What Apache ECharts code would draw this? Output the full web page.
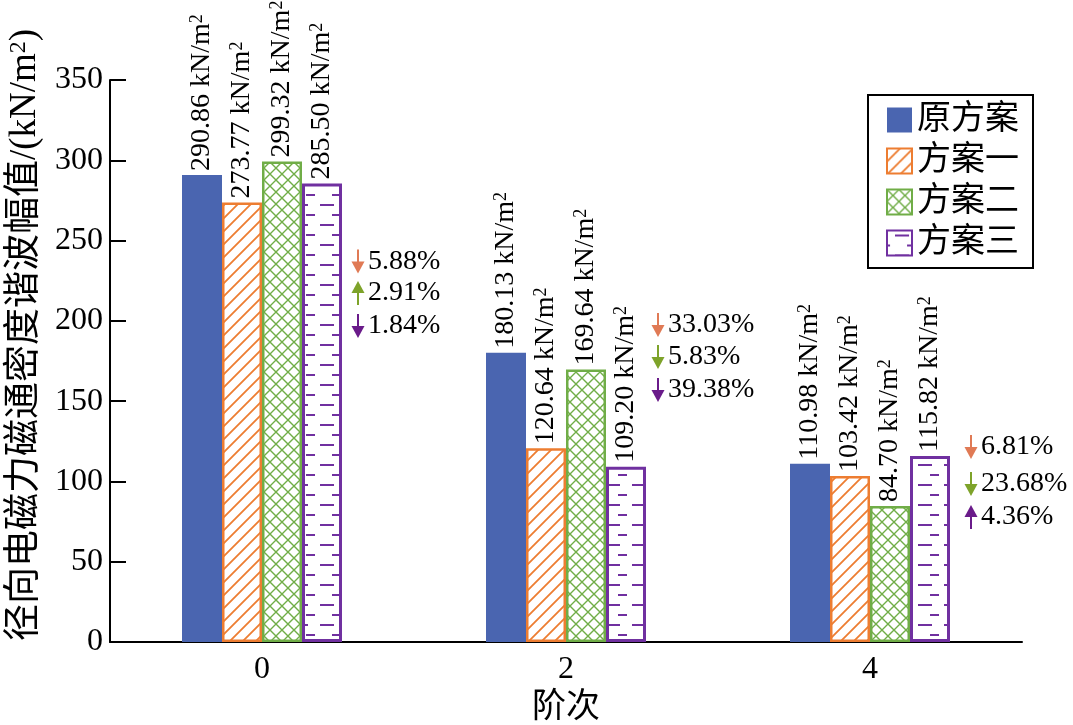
<!DOCTYPE html>
<html>
<head>
<meta charset="utf-8">
<script src="https://cdn.jsdelivr.net/npm/echarts@6/dist/echarts.min.js"></script>
<style>
html,body{margin:0;padding:0;background:#fff;}
#main{width:1073px;height:725px;}
</style>
</head>
<body>
<div id="main"></div>
<script>
// ---------- data ----------
const categories = ['0', '2', '4'];
const seriesNames = ['原方案', '方案一', '方案二', '方案三'];
const originalValues = [290.86, 180.13, 110.98];
const plan1Values = [273.77, 120.64, 103.42];
const plan2Values = [299.32, 169.64, 84.70];
const plan3Values = [285.50, 109.20, 115.82];
const yTicks = [0, 50, 100, 150, 200, 250, 300, 350];
// change of each plan vs. original, per order group (plan1, plan2, plan3)
const changePercent = [
  ['5.88%', '2.91%', '1.84%'],
  ['33.03%', '5.83%', '39.38%'],
  ['6.81%', '23.68%', '4.36%']
];
const changeDirection = [
  ['down', 'up', 'down'],
  ['down', 'down', 'down'],
  ['down', 'down', 'up']
];

// ---------- styling ----------
const SERIF = '"Liberation Serif", "Times New Roman", "Noto Sans CJK SC", serif';
const CJK = '"Liberation Serif", "Noto Sans CJK SC", serif';
const BLUE = '#4a65b0', ORANGE = '#ed7d31', GREEN = '#70ad47', PURPLE = '#7030a0';
const ARROW_COLORS = ['#e07a55', '#7ea32a', '#6a1b8a'];
// anchor heights (axis units) of annotation rows for each group
const annotAnchor = [[237, 217.4, 196.8], [197.4, 177.5, 156.9], [121.4, 98.4, 77.8]];
const annotOffsetX = [96, 92, 101];

function makePattern(w, h, draw) {
  const c = document.createElement('canvas');
  c.width = w; c.height = h;
  const ctx = c.getContext('2d');
  ctx.fillStyle = '#fff';
  ctx.fillRect(0, 0, w, h);
  draw(ctx, w, h);
  return { image: c, repeat: 'repeat' };
}
const hatchPattern = makePattern(13, 13, (ctx, w, h) => {
  ctx.strokeStyle = ORANGE; ctx.lineWidth = 1.8;
  ctx.beginPath();
  ctx.moveTo(-1, h + 1); ctx.lineTo(w + 1, -1);
  ctx.moveTo(-1, 1); ctx.lineTo(1, -1);
  ctx.moveTo(w - 1, h + 1); ctx.lineTo(w + 1, h - 1);
  ctx.stroke();
});
const crossPattern = makePattern(12, 12, (ctx, w, h) => {
  ctx.strokeStyle = GREEN; ctx.lineWidth = 1.4;
  ctx.beginPath();
  ctx.moveTo(-1, h + 1); ctx.lineTo(w + 1, -1);
  ctx.moveTo(-1, -1); ctx.lineTo(w + 1, h + 1);
  ctx.stroke();
});
const brickPattern = makePattern(26, 20, (ctx, w, h) => {
  ctx.strokeStyle = PURPLE; ctx.lineWidth = 2;
  ctx.beginPath();
  ctx.moveTo(8, 5); ctx.lineTo(22, 5);
  ctx.moveTo(20, 15); ctx.lineTo(26, 15);
  ctx.moveTo(0, 15); ctx.lineTo(3, 15);
  ctx.stroke();
});

const labelCfg = {
  show: true,
  position: 'top',
  rotate: 90,
  align: 'left',
  verticalAlign: 'middle',
  distance: 4,
  formatter: p => p.value.toFixed(2) + ' kN/m{sup|2}',
  fontFamily: SERIF,
  fontSize: 28,
  color: '#000',
  rich: {
    sup: { fontSize: 18, verticalAlign: 'top', fontFamily: SERIF, color: '#000', padding: [0, 0, 10, 0] }
  }
};

function barSeries(name, data, itemStyle) {
  return {
    name, type: 'bar', data,
    barWidth: 40, barGap: '0%',
    itemStyle,
    label: labelCfg,
    emphasis: { disabled: true }
  };
}

// annotation rows
const annotData = [];
for (let g = 0; g < categories.length; g++) {
  for (let r = 0; r < 3; r++) {
    annotData.push([g, annotAnchor[g][r], changePercent[g][r], changeDirection[g][r], r]);
  }
}

const chart = echarts.init(document.getElementById('main'), null, { renderer: 'canvas' });
chart.setOption({
  animation: false,
  backgroundColor: '#fff',
  grid: { left: 110, right: 51, top: 80, bottom: 83, containLabel: false, outerBoundsMode: 'none' },
  legend: {
    orient: 'vertical',
    left: 868, top: 95,
    padding: [8, 14, 8, 18],
    itemWidth: 25, itemHeight: 25, itemGap: 7,
    borderColor: '#000', borderWidth: 2,
    icon: 'rect',
    data: seriesNames,
    textStyle: { fontSize: 34, fontFamily: CJK, color: '#000' }
  },
  xAxis: {
    type: 'category',
    data: categories,
    name: '阶次',
    nameLocation: 'middle',
    nameGap: 41,
    nameTextStyle: { fontSize: 34, fontFamily: CJK, color: '#000' },
    axisLine: { lineStyle: { color: '#000', width: 2 } },
    axisTick: { show: false },
    axisLabel: { fontSize: 32, fontFamily: SERIF, color: '#000', margin: 12 }
  },
  yAxis: {
    type: 'value',
    min: 0, max: 350, interval: 50,
    name: '径向电磁力磁通密度谐波幅值/(kN/m{sup|2})',
    nameLocation: 'middle',
    nameGap: 64,
    nameTextStyle: {
      fontSize: 37, fontFamily: CJK, color: '#000',
      padding: [0, 0, 0, 52],
      rich: { sup: { fontSize: 24, verticalAlign: 'top', fontFamily: SERIF, color: '#000', padding: [0, 0, 14, 0] } }
    },
    axisLine: { show: true, lineStyle: { color: '#000', width: 2 } },
    axisTick: { show: true, inside: true, length: 16, lineStyle: { color: '#000', width: 2 } },
    axisLabel: {
      fontSize: 32, fontFamily: SERIF, color: '#000', margin: 7,
      formatter: v => yTicks.indexOf(v) >= 0 ? String(v) : ''
    },
    splitLine: { show: false }
  },
  series: [
    barSeries(seriesNames[0], originalValues, { color: BLUE }),
    barSeries(seriesNames[1], plan1Values, { color: hatchPattern, borderColor: ORANGE, borderWidth: 2.5 }),
    barSeries(seriesNames[2], plan2Values, { color: crossPattern, borderColor: GREEN, borderWidth: 2.5 }),
    barSeries(seriesNames[3], plan3Values, { color: brickPattern, borderColor: PURPLE, borderWidth: 3 }),
    {
      type: 'custom',
      silent: true,
      z: 10,
      data: annotData,
      renderItem: (params, api) => {
        const g = api.value(0);
        const pt = api.coord([g, api.value(1)]);
        const item = annotData[params.dataIndex];
        const dir = item[3];
        const col = ARROW_COLORS[item[4]];
        const x = pt[0] + annotOffsetX[g];
        const y = pt[1];
        const half = 12, headH = 12, headW = 6.5;
        let shaft, head;
        if (dir === 'down') {
          shaft = { x1: x, y1: y - half, x2: x, y2: y + half - headH + 1 };
          head = [[x - headW, y + half - headH], [x + headW, y + half - headH], [x, y + half]];
        } else {
          shaft = { x1: x, y1: y + half, x2: x, y2: y - half + headH - 1 };
          head = [[x - headW, y - half + headH], [x + headW, y - half + headH], [x, y - half]];
        }
        return {
          type: 'group',
          children: [
            { type: 'line', shape: shaft, style: { stroke: col, lineWidth: 2 } },
            { type: 'polygon', shape: { points: head }, style: { fill: col } },
            { type: 'text', x: x + 10, y: y, style: {
                text: item[2], fill: '#000', fontSize: 28, fontFamily: SERIF,
                verticalAlign: 'middle', align: 'left' } }
          ]
        };
      }
    }
  ]
});
</script>
</body>
</html>
